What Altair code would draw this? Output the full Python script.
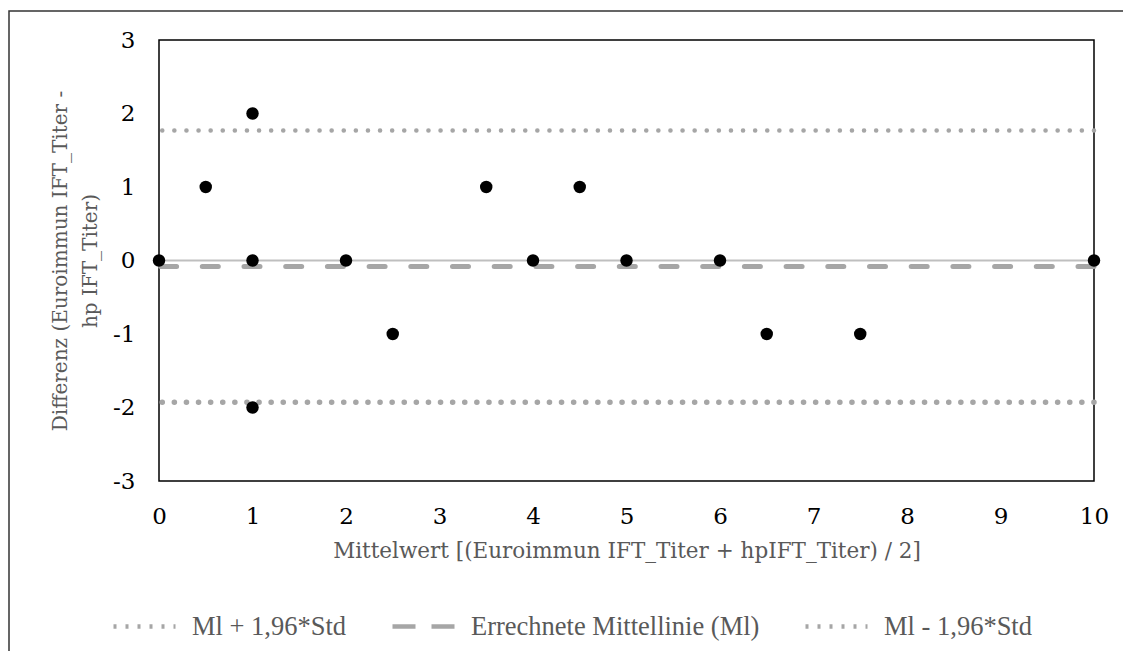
import altair as alt
import pandas as pd

# Data points (Mittelwert, Differenz)
mean_vals = [0, 0.5, 1, 1, 1, 2, 2.5, 3.5, 4, 4.5, 5, 6, 6.5, 7.5, 10]
diff_vals = [0, 1, 2, 0, -2, 0, -1, 1, 0, 1, 0, 0, -1, -1, 0]

# Reference lines
line_names = ["Ml + 1,96*Std", "Errechnete Mittellinie (Ml)", "Ml - 1,96*Std"]
line_values = [1.77, -0.08, -1.93]

x_ticks = list(range(0, 11))
y_ticks = [-3, -2, -1, 0, 1, 2, 3]

pts = pd.DataFrame({"m": mean_vals, "d": diff_vals})
lines = pd.DataFrame({"name": line_names, "y": line_values})

FONT = "DejaVu Serif"
LEGEND_FONT = "Liberation Serif"
W, H = 935, 441

x_scale = alt.Scale(domain=[0, 10], nice=False, zero=False)
y_scale = alt.Scale(domain=[-3, 3], nice=False, zero=False)

zero_line = alt.Chart(pd.DataFrame({"z": [0]})).mark_rule(
    color="#bfbfbf", strokeWidth=2
).encode(y=alt.Y("z:Q", scale=y_scale))

# visible reference lines (round dots / dashes)
ref_lines = alt.Chart(lines).mark_rule(color="#a6a6a6", strokeCap="round").encode(
    y=alt.Y("y:Q", scale=y_scale),
    strokeDash=alt.StrokeDash(
        "name:N",
        scale=alt.Scale(domain=line_names, range=[[0.1, 12], [16, 25.7], [0.1, 12]]),
        legend=None,
    ),
    strokeWidth=alt.StrokeWidth(
        "name:N",
        scale=alt.Scale(domain=line_names, range=[4.5, 5.5, 4.5]),
        legend=None,
    ),
)

# invisible copy that only provides the legend
legend_lines = alt.Chart(lines).mark_rule(color="#a6a6a6", opacity=0).encode(
    y=alt.Y("y:Q", scale=y_scale),
    strokeDash=alt.StrokeDash(
        "name:N",
        scale=alt.Scale(domain=line_names, range=[[3, 9], [23, 16], [3, 9]]),
        sort=line_names,
        legend=alt.Legend(
            title=None,
            orient="none",
            direction="horizontal",
            legendX=-48,
            legendY=553,
            labelFont=LEGEND_FONT,
            labelFontSize=26.5,
            labelColor="#595959",
            labelLimit=600,
            symbolType="stroke",
            symbolSize=3844,
            symbolStrokeColor="#a6a6a6",
            symbolStrokeWidth=4.5,
            symbolOpacity=1,
            columnPadding=36,
            labelOffset=14,
        ),
    ),
)

points = alt.Chart(pts).mark_circle(color="black", opacity=1, size=155).encode(
    x=alt.X(
        "m:Q",
        scale=x_scale,
        axis=alt.Axis(
            title="Mittelwert [(Euroimmun IFT_Titer + hpIFT_Titer) / 2]",
            values=x_ticks,
            labelExpr="'' + datum.value",
            labelFlush=False,
            grid=False,
            ticks=False,
            domain=False,
            labelPadding=24,
            titlePadding=12,
            titleFontSize=21.5,
        ),
    ),
    y=alt.Y(
        "d:Q",
        scale=y_scale,
        axis=alt.Axis(
            title=["Differenz (Euroimmun IFT_Titer -", "hp IFT_Titer)"],
            values=y_ticks,
            labelExpr="'' + datum.value",
            grid=False,
            ticks=False,
            domain=False,
            labelPadding=24,
            titleFontSize=20,
            titleLineHeight=30,
            titleX=-93,
            titleY=220.5,
            titleAlign="center",
            titleBaseline="alphabetic",
            titleAngle=270,
        ),
    ),
)

frame = alt.Chart(pd.DataFrame({"f": [0]})).mark_rect(
    fill=None, stroke="#333333", strokeWidth=1.5
).encode(
    x=alt.value(-150), x2=alt.value(1000), y=alt.value(-29), y2=alt.value(700)
)

chart = (
    alt.layer(frame, zero_line, ref_lines, legend_lines, points)
    .resolve_scale(strokeDash="independent")
    .properties(
        width=W,
        height=H,
        background="white",
        autosize=alt.AutoSizeParams(type="none"),
        padding={"left": 151, "top": 32, "right": 29, "bottom": 170},
    )
    .configure_view(stroke="black", strokeWidth=1.5)
    .configure_axis(
        labelFont=FONT,
        labelFontSize=23,
        labelColor="black",
        titleFont=FONT,
        titleColor="#595959",
        titleFontWeight="normal",
    )
)

chart.save("out.html", embed_options={"renderer": "svg", "actions": False})
